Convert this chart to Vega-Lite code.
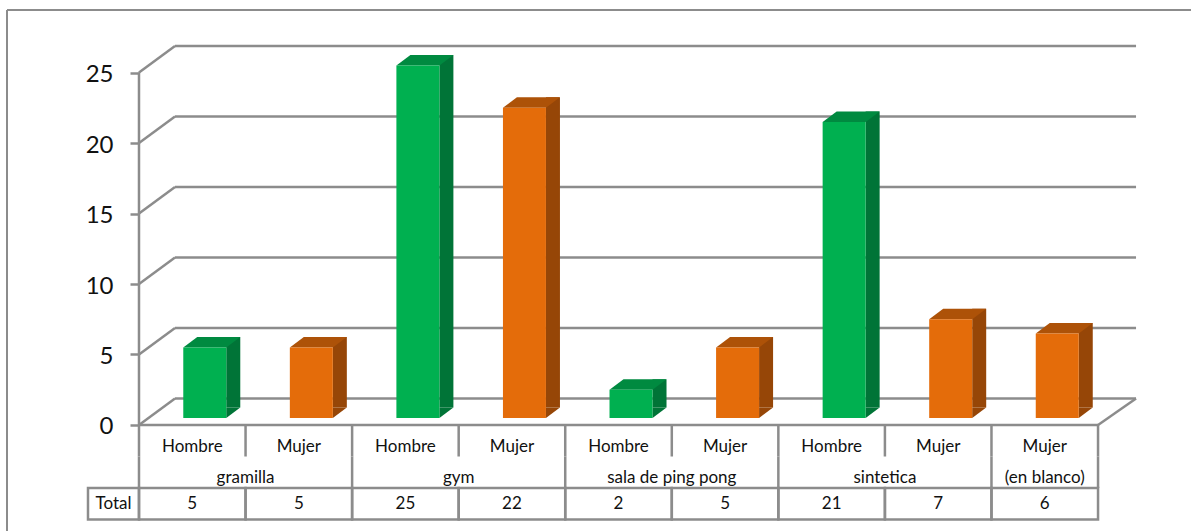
{
  "$schema": "https://vega.github.io/schema/vega-lite/v6.json",
  "width": 1184,
  "height": 521,
  "padding": {"left": 7, "top": 10, "right": 0, "bottom": 0},
  "autosize": {"type": "none"},
  "background": "white",
  "config": {"view": {"stroke": null}, "font": "Lato", "axisX": {"disable": true}},
  "datasets": {
    "barras": [
      {"orden": 0, "centro": 0.5, "fin": 1, "genero": "Hombre", "lugar": "gramilla", "total": 5},
      {"orden": 1, "centro": 1.5, "fin": 2, "genero": "Mujer", "lugar": "gramilla", "total": 5},
      {"orden": 2, "centro": 2.5, "fin": 3, "genero": "Hombre", "lugar": "gym", "total": 25},
      {"orden": 3, "centro": 3.5, "fin": 4, "genero": "Mujer", "lugar": "gym", "total": 22},
      {"orden": 4, "centro": 4.5, "fin": 5, "genero": "Hombre", "lugar": "sala de ping pong", "total": 2},
      {"orden": 5, "centro": 5.5, "fin": 6, "genero": "Mujer", "lugar": "sala de ping pong", "total": 5},
      {"orden": 6, "centro": 6.5, "fin": 7, "genero": "Hombre", "lugar": "sintetica", "total": 21},
      {"orden": 7, "centro": 7.5, "fin": 8, "genero": "Mujer", "lugar": "sintetica", "total": 7},
      {"orden": 8, "centro": 8.5, "fin": 9, "genero": "Mujer", "lugar": "(en blanco)", "total": 6}
    ],
    "grupos": [
      {"lugar": "gramilla", "centro": 1},
      {"lugar": "gym", "centro": 3},
      {"lugar": "sala de ping pong", "centro": 5},
      {"lugar": "sintetica", "centro": 7},
      {"lugar": "(en blanco)", "centro": 8.5}
    ],
    "separadores": [
      {"col": 0, "fila": "genero"}, {"col": 1, "fila": "genero"}, {"col": 2, "fila": "genero"},
      {"col": 3, "fila": "genero"}, {"col": 4, "fila": "genero"}, {"col": 5, "fila": "genero"},
      {"col": 6, "fila": "genero"}, {"col": 7, "fila": "genero"}, {"col": 8, "fila": "genero"},
      {"col": 9, "fila": "genero"},
      {"col": 0, "fila": "lugar"}, {"col": 2, "fila": "lugar"}, {"col": 4, "fila": "lugar"},
      {"col": 6, "fila": "lugar"}, {"col": 8, "fila": "lugar"}, {"col": 9, "fila": "lugar"}
    ],
    "niveles": [{"v": 0}, {"v": 5}, {"v": 10}, {"v": 15}, {"v": 20}, {"v": 25}],
    "cabecera": [{"inicio": -0.4786, "fin": 0, "centro": -0.2393, "etiqueta": "Total", "fila": "total"}],
    "uno": [{"n": 1}]
  },
  "resolve": {"scale": {"y": "independent"}},
  "layer": [
    {
      "layer": [
        {
          "description": "Frame of the sheet",
          "data": {"name": "uno"},
          "mark": {"type": "rule", "color": "#8c8c8c", "strokeWidth": 2},
          "encoding": {"x": {"datum": -1.2387}, "y": {"datum": -7.518}, "y2": {"datum": 29.433}}
        },
        {
          "data": {"name": "uno"},
          "mark": {"type": "rule", "color": "#8c8c8c", "strokeWidth": 2},
          "encoding": {"x": {"datum": -1.2387}, "x2": {"datum": 9.8724}, "y": {"datum": 29.433}}
        },
        {
          "description": "Gridlines on the back wall",
          "data": {"name": "niveles"},
          "mark": {"type": "rule", "color": "#8c8c8c", "strokeWidth": 2.5, "xOffset": 36, "x2Offset": 38, "yOffset": -26.5},
          "encoding": {"x": {"datum": 0}, "x2": {"datum": 9}, "y": {"field": "v", "type": "quantitative"}}
        },
        {
          "description": "Side wall slants from the axis to the back wall",
          "data": {"name": "niveles"},
          "mark": {"type": "point", "shape": "M0,0L36,-26.5", "size": 4, "filled": false, "color": "#8c8c8c", "strokeWidth": 2.5, "opacity": 1},
          "encoding": {"x": {"datum": 0}, "y": {"field": "v", "type": "quantitative"}}
        },
        {
          "description": "Right edge of the floor",
          "data": {"name": "uno"},
          "mark": {"type": "point", "shape": "M0,0L38,-26.5", "size": 4, "filled": false, "color": "#8c8c8c", "strokeWidth": 2.5, "opacity": 1},
          "encoding": {"x": {"datum": 9}, "y": {"datum": 0}}
        },
        {
          "description": "Front vertical axis",
          "data": {"name": "uno"},
          "mark": {"type": "rule", "color": "#8c8c8c", "strokeWidth": 2.5},
          "encoding": {"x": {"datum": 0}, "y": {"datum": 0}, "y2": {"datum": 25}}
        },
        {
          "description": "Front floor edge, also the top of the table",
          "data": {"name": "uno"},
          "mark": {"type": "rule", "color": "#8c8c8c", "strokeWidth": 2.5},
          "encoding": {"x": {"datum": 0}, "x2": {"datum": 9}, "y": {"datum": 0}}
        },
        {
          "description": "Right side face of each column",
          "data": {"name": "barras"},
          "mark": {"type": "bar", "size": 14, "orient": "vertical", "xOffset": 41, "yOffset": -17.5},
          "encoding": {
            "x": {"field": "centro", "type": "quantitative", "scale": {"domain": [-1.2387, 9.8724], "nice": false, "zero": false, "padding": 0}},
            "y": {
              "field": "total", "type": "quantitative",
              "scale": {"domain": [-7.518, 29.433], "nice": false, "zero": false},
              "axis": {
                "values": [0, 5, 10, 15, 20, 25], "offset": -132, "grid": false, "domain": false,
                "tickSize": 9, "tickColor": "#8c8c8c", "tickWidth": 2.5,
                "labelFontSize": 24, "labelColor": "#111111", "labelPadding": 17, "labelOffset": 2, "title": null
              }
            },
            "color": {"condition": {"test": "datum.genero === 'Hombre'", "value": "#007437"}, "value": "#964607"}
          }
        },
        {
          "description": "Lower corner of each side face",
          "data": {"name": "barras"},
          "mark": {"type": "point", "shape": "M21.5,0L35.5,-10.5L21.5,-10.5Z", "size": 4, "filled": true, "opacity": 1, "strokeWidth": 0, "xOffset": 12.5, "yOffset": -7},
          "encoding": {
            "x": {"field": "centro", "type": "quantitative"},
            "y": {"datum": 0},
            "color": {"condition": {"test": "datum.genero === 'Hombre'", "value": "#007437"}, "value": "#964607"}
          }
        },
        {
          "description": "Top face of each column",
          "data": {"name": "barras"},
          "mark": {"type": "point", "shape": "M-21.5,0L-7.5,-10.5L35.5,-10.5L21.5,0Z", "size": 4, "filled": true, "opacity": 1, "strokeWidth": 0, "xOffset": 12.5, "yOffset": -7},
          "encoding": {
            "x": {"field": "centro", "type": "quantitative"},
            "y": {"field": "total", "type": "quantitative"},
            "color": {"condition": {"test": "datum.genero === 'Hombre'", "value": "#008A40"}, "value": "#AD5208"}
          }
        },
        {
          "description": "Front face of each column",
          "data": {"name": "barras"},
          "mark": {"type": "bar", "size": 43, "orient": "vertical", "xOffset": 12.5, "yOffset": -7},
          "encoding": {
            "x": {"field": "centro", "type": "quantitative"},
            "y": {"field": "total", "type": "quantitative"},
            "color": {"condition": {"test": "datum.genero === 'Hombre'", "value": "#00B050"}, "value": "#E46C0A"}
          }
        }
      ]
    },
    {
      "encoding": {
        "y": {
          "field": "fila", "type": "nominal", "axis": null,
          "scale": {"type": "band", "domain": ["genero", "lugar", "total"], "range": [415, 509.5], "padding": 0}
        }
      },
      "layer": [
        {
          "description": "Vertical dividers of the two header rows",
          "data": {"name": "separadores"},
          "mark": {"type": "rect", "stroke": "#8c8c8c", "strokeWidth": 2.5, "fillOpacity": 0},
          "encoding": {"x": {"field": "col", "type": "quantitative"}, "x2": {"field": "col"}}
        },
        {
          "description": "Total row cells",
          "data": {"name": "barras"},
          "transform": [{"calculate": "'total'", "as": "fila"}],
          "mark": {"type": "rect", "stroke": "#8c8c8c", "strokeWidth": 2.5, "fillOpacity": 0},
          "encoding": {"x": {"field": "orden", "type": "quantitative"}, "x2": {"field": "fin"}}
        },
        {
          "data": {"name": "cabecera"},
          "mark": {"type": "rect", "stroke": "#8c8c8c", "strokeWidth": 2.5, "fillOpacity": 0},
          "encoding": {"x": {"field": "inicio", "type": "quantitative"}, "x2": {"field": "fin"}}
        },
        {
          "data": {"name": "cabecera"},
          "mark": {"type": "text", "fontSize": 17, "color": "#111111"},
          "encoding": {"x": {"field": "centro", "type": "quantitative"}, "text": {"field": "etiqueta"}}
        },
        {
          "data": {"name": "barras"},
          "transform": [{"calculate": "'genero'", "as": "fila"}],
          "mark": {"type": "text", "fontSize": 17, "color": "#111111", "dy": 6},
          "encoding": {"x": {"field": "centro", "type": "quantitative"}, "text": {"field": "genero"}}
        },
        {
          "data": {"name": "grupos"},
          "transform": [{"calculate": "'lugar'", "as": "fila"}],
          "mark": {"type": "text", "fontSize": 17, "color": "#111111", "dy": 6},
          "encoding": {"x": {"field": "centro", "type": "quantitative"}, "text": {"field": "lugar"}}
        },
        {
          "data": {"name": "barras"},
          "transform": [{"calculate": "'total'", "as": "fila"}],
          "mark": {"type": "text", "fontSize": 17, "color": "#111111"},
          "encoding": {"x": {"field": "centro", "type": "quantitative"}, "text": {"field": "total", "type": "quantitative"}}
        }
      ]
    }
  ]
}
